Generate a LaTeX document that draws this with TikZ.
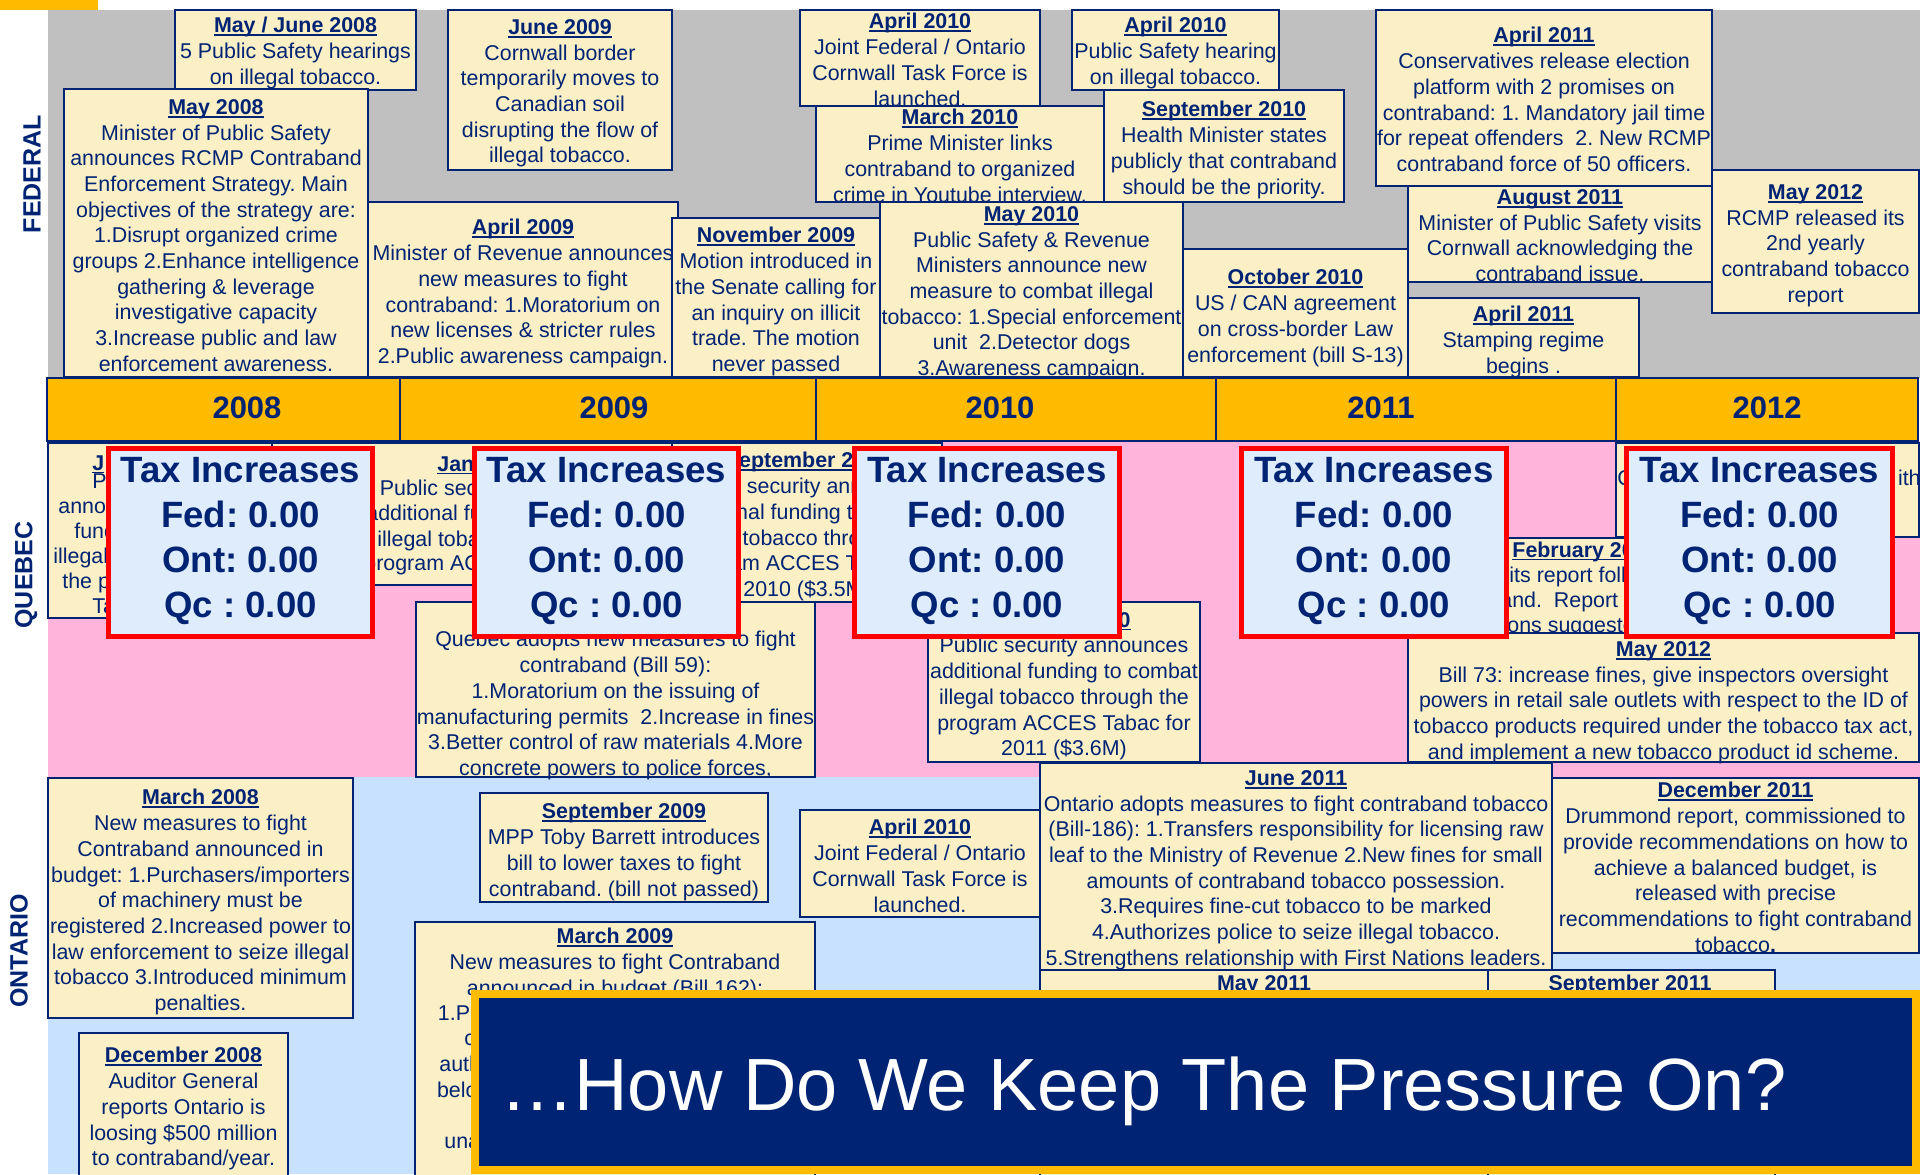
\documentclass[tikz,border=0pt]{standalone}
\usepackage{fontspec}
\setmainfont{Liberation Sans}
\definecolor{navy}{RGB}{0,35,115}
\definecolor{cream}{RGB}{251,239,198}
\definecolor{fedgray}{RGB}{192,192,192}
\definecolor{qcpink}{RGB}{255,181,219}
\definecolor{onblue}{RGB}{199,225,255}
\definecolor{amber}{RGB}{255,187,0}
\definecolor{taxfill}{RGB}{222,236,251}
\definecolor{taxred}{RGB}{255,0,0}
\newcommand{\evtitle}[1]{\setbox0\hbox{\bfseries #1}\rlap{\vrule width\wd0 height -0.75pt depth 1.6pt}\box0}

\begin{document}
\frenchspacing
\begin{tikzpicture}[x=0.5pt,y=0.5pt,
  evbox/.style={draw=navy, line width=1.25pt, fill=cream},
  evtext/.style={anchor=north, align=center, text=navy, font=\fontsize{10.7}{12.85}\selectfont},
  frag/.style={anchor=base west, text=navy, font=\fontsize{10.7}{12.85}\selectfont},
  yearbar/.style={draw=navy, line width=1pt, fill=amber},
  yearlbl/.style={text=navy, font=\bfseries\fontsize{15.5}{18}\selectfont},
  taxframe/.style={draw=taxred, line width=2.5pt, fill=taxfill},
  taxtext/.style={anchor=north, align=center, text=navy, font=\bfseries\fontsize{18.3}{22.5}\selectfont},
  banner/.style={draw=amber, line width=4pt, fill=navy},
  bannertext/.style={anchor=base, text=white, font=\fontsize{37}{44}\selectfont},
  lanelbl/.style={rotate=90, text=navy, font=\bfseries\fontsize{12.5}{15}\selectfont}]
        \tikzstyle{every node}+=[inner sep=0pt]
        \useasboundingbox (0,0) rectangle (1920,-1174);
        % lanes
        \fill [amber] (0,0) rectangle (98,-10);
        \fill [fedgray] (48,-10) rectangle (1920,-378);
        \fill [qcpink] (48,-441) rectangle (1920,-777);
        \fill [onblue] (48,-777) rectangle (1920,-1174);
        % federal events
        \draw [evbox] (175,-10) rectangle (416,-90);
        \draw (295.5,-17) node [evtext] (fed1) {\evtitle{May / June 2008}\\5 Public Safety hearings\\on illegal tobacco.};
        \draw [evbox] (448,-10) rectangle (672,-170);
        \draw (560,-19) node [evtext] (fed2) {\evtitle{June 2009}\\Cornwall border\\temporarily moves to\\Canadian soil\\disrupting the flow of\\illegal tobacco.};
        \draw [evbox] (64,-89) rectangle (368,-377);
        \draw (216,-99) node [evtext] (fed3) {\evtitle{May 2008}\\Minister of Public Safety\\announces RCMP Contraband\\Enforcement Strategy. Main\\objectives of the strategy are:\\1.Disrupt organized crime\\groups 2.Enhance intelligence\\gathering \& leverage\\investigative capacity\\3.Increase public and law\\enforcement awareness.};
        \draw [evbox] (368,-202) rectangle (678,-377);
        \draw (523,-219) node [evtext] (fed4) {\evtitle{April 2009}\\Minister of Revenue announces\\new measures to fight\\contraband: 1.Moratorium on\\new licenses \& stricter rules\\2.Public awareness campaign.};
        \draw [evbox] (672,-218) rectangle (880,-377);
        \draw (776,-227) node [evtext] (fed5) {\evtitle{November 2009}\\Motion introduced in\\the Senate calling for\\an inquiry on illicit\\trade. The motion\\never passed};
        \draw [evbox] (800,-10) rectangle (1040,-106);
        \draw (920,-13) node [evtext] (fed6) {\evtitle{April 2010}\\Joint Federal / Ontario\\Cornwall Task Force is\\launched.};
        \draw [evbox] (1072,-10) rectangle (1279,-90);
        \draw (1175.5,-17) node [evtext] (fed7) {\evtitle{April 2010}\\Public Safety hearing\\on illegal tobacco.};
        \draw [evbox] (816,-106) rectangle (1104,-202);
        \draw (960,-109) node [evtext] (fed8) {\evtitle{March 2010}\\Prime Minister links\\contraband to organized\\crime in Youtube interview.};
        \draw [evbox] (1104,-90) rectangle (1344,-202);
        \draw (1224,-101) node [evtext] (fed9) {\evtitle{September 2010}\\Health Minister states\\publicly that contraband\\should be the priority.};
        \draw [evbox] (880,-202) rectangle (1183,-377);
        \draw (1031.5,-206) node [evtext] (fed10) {\evtitle{May 2010}\\Public Safety \& Revenue\\Ministers announce new\\measure to combat illegal\\tobacco: 1.Special enforcement\\unit~ 2.Detector dogs\\3.Awareness campaign.};
        \draw [evbox] (1183,-249) rectangle (1408,-377);
        \draw (1295.5,-269) node [evtext] (fed11) {\evtitle{October 2010}\\US / CAN agreement\\on cross-border Law\\enforcement (bill S-13)};
        \draw [evbox] (1376,-10) rectangle (1712,-186);
        \draw (1544,-27) node [evtext] (fed12) {\evtitle{April 2011}\\Conservatives release election\\platform with 2 promises on\\contraband: 1. Mandatory jail time\\for repeat offenders~ 2. New RCMP\\contraband force of 50 officers.};
        \draw [evbox] (1408,-186) rectangle (1712,-282);
        \draw (1560,-189) node [evtext] (fed13) {\evtitle{August 2011}\\Minister of Public Safety visits\\Cornwall acknowledging the\\contraband issue.};
        \draw [evbox] (1408,-298) rectangle (1639,-377);
        \draw (1523.5,-306) node [evtext] (fed14) {\evtitle{April 2011}\\Stamping regime\\begins .};
        \draw [evbox] (1712,-170) rectangle (1919,-313);
        \draw (1815.5,-184) node [evtext] (fed15) {\evtitle{May 2012}\\RCMP released its\\2nd yearly\\contraband tobacco\\report};
        % year bar
        \draw [yearbar] (47,-378) rectangle (1918,-441);
        \draw [navy, line width=1pt] (400,-378) -- (400,-441);
        \draw [navy, line width=1pt] (816,-378) -- (816,-441);
        \draw [navy, line width=1pt] (1216,-378) -- (1216,-441);
        \draw [navy, line width=1pt] (1616,-378) -- (1616,-441);
        \draw (247,-407.5) node [yearlbl] (y2008) {2008};
        \draw (614,-407.5) node [yearlbl] (y2009) {2009};
        \draw (1000,-407.5) node [yearlbl] (y2010) {2010};
        \draw (1381,-407.5) node [yearlbl] (y2011) {2011};
        \draw (1767,-407.5) node [yearlbl] (y2012) {2012};
        % quebec events
        \draw [evbox] (48,-443) rectangle (272,-618);
        \draw (92,-470) node [frag] (qc1t) {\evtitle{J}};
        \draw (92,-488) node [frag] (qc1a) {Pu};
        \draw (58,-513) node [frag] (qc1b) {annou};
        \draw (74,-538) node [frag] (qc1c) {fund};
        \draw (53,-563) node [frag] (qc1d) {illegal t};
        \draw (62,-588) node [frag] (qc1e) {the pr};
        \draw (92,-613) node [frag] (qc1f) {Ta};
        \draw [evbox] (272,-443) rectangle (672,-585);
        \draw (437,-471) node [frag] (qc2t) {\evtitle{Jan}};
        \draw (379.5,-495) node [frag] (qc2a) {Public secu};
        \draw (366,-520) node [frag] (qc2b) {additional fu};
        \draw (377,-546) node [frag] (qc2c) {illegal tobac};
        \draw (364,-570) node [frag] (qc2d) {program ACC};
        \draw [evbox] (672,-443) rectangle (942,-602);
        \draw (807,-452) node [evtext] (qc3) {\evtitle{September 2009}\\Public security announces\\additional funding to combat\\illegal tobacco through the\\program ACCES Tabac for\\2010 (\$3.5M)};
        \draw [evbox] (416,-602) rectangle (815,-777);
        \draw (615.5,-631) node [evtext] (qc4) {Quebec adopts new measures to fight\\contraband (Bill 59):\\1.Moratorium on the issuing of\\manufacturing permits~ 2.Increase in fines\\3.Better control of raw materials 4.More\\concrete powers to police forces,};
        \draw [evbox] (928,-602) rectangle (1200,-762);
        \draw (1131,-627) node [frag, anchor=base east] (qc5t) {\evtitle{0}};
        \draw (1064,-637) node [evtext] (qc5) {Public security announces\\additional funding to combat\\illegal tobacco through the\\program ACCES Tabac for\\2011 (\$3.6M)};
        \draw [evbox] (1440,-538) rectangle (1700,-633);
        \draw (1512,-557) node [frag] (qc6t) {\evtitle{February 20}};
        \draw (1509,-582) node [frag] (qc6a) {its report foll};
        \draw (1500,-607) node [frag] (qc6b) {and.~ Report o};
        \draw (1507,-632) node [frag] (qc6c) {ons suggeste};
        \draw [evbox] (1616,-443) rectangle (1919,-537);
        \draw (1617,-485) node [frag] (qc7a) {C};
        \draw (1921,-485) node [frag, anchor=base east] (qc7b) {ith};
        \draw [evbox] (1408,-633) rectangle (1919,-762);
        \draw (1663.5,-641) node [evtext] (qc8) {\evtitle{May 2012}\\Bill 73: increase fines, give inspectors oversight\\powers in retail sale outlets with respect to the ID of\\tobacco products required under the tobacco tax act,\\and implement a new tobacco product id scheme.};
        % ontario events
        \draw [evbox] (48,-778) rectangle (353,-1018);
        \draw (200.5,-789) node [evtext] (on1) {\evtitle{March 2008}\\New measures to fight\\Contraband announced in\\budget: 1.Purchasers/importers\\of machinery must be\\registered 2.Increased power to\\law enforcement to seize illegal\\tobacco 3.Introduced minimum\\penalties.};
        \draw [evbox] (79,-1033) rectangle (288,-1190);
        \draw (183.5,-1047) node [evtext] (on2) {\evtitle{December 2008}\\Auditor General\\reports Ontario is\\loosing \$500 million\\to contraband/year.};
        \draw [evbox] (480,-793) rectangle (768,-902);
        \draw (624,-803) node [evtext] (on3) {\evtitle{September 2009}\\MPP Toby Barrett introduces\\bill to lower taxes to fight\\contraband. (bill not passed)};
        \draw [evbox] (415,-922) rectangle (815,-1190);
        \draw (615,-928) node [evtext] (on4) {\evtitle{March 2009}\\New measures to fight Contraband\\announced in budget (Bill 162):};
        \draw (437.5,-1020) node [frag] (on4a) {1.Pr};
        \draw (464,-1045) node [frag] (on4b) {co};
        \draw (439,-1071) node [frag] (on4c) {auth};
        \draw (436.6,-1097) node [frag] (on4d) {belo};
        \draw (444,-1148) node [frag] (on4e) {una};
        \draw [evbox] (800,-810) rectangle (1040,-917);
        \draw (920,-819) node [evtext] (on5) {\evtitle{April 2010}\\Joint Federal / Ontario\\Cornwall Task Force is\\launched.};
        \draw [evbox] (1040,-763) rectangle (1552,-970);
        \draw (1296,-770) node [evtext] (on6) {\evtitle{June 2011}\\Ontario adopts measures to fight contraband tobacco\\(Bill-186): 1.Transfers responsibility for licensing raw\\leaf to the Ministry of Revenue 2.New fines for small\\amounts of contraband tobacco possession.\\3.Requires fine-cut tobacco to be marked\\4.Authorizes police to seize illegal tobacco.\\5.Strengthens relationship with First Nations leaders.};
        \draw [evbox] (1552,-778) rectangle (1919,-953);
        \draw (1735.5,-782) node [evtext] (on7) {\evtitle{December 2011}\\Drummond report, commissioned to\\provide recommendations on how to\\achieve a balanced budget, is\\released with precise\\recommendations to fight contraband\\tobacco\textbf{.}};
        \draw [evbox] (1040,-970) rectangle (1488,-1190);
        \draw (1264,-975) node [evtext] (on8) {\evtitle{May 2011}};
        \draw [evbox] (1488,-970) rectangle (1775,-1190);
        \draw (1630,-975) node [evtext] (on9) {\evtitle{September 2011}};
        % tax increase boxes
        \draw [taxframe] (108.5,-448.5) rectangle (372.5,-636.5);
        \draw (240.5,-457) node [taxtext] (tax08) {Tax Increases\\Fed: 0.00\\Ont: 0.00\\Qc : 0.00};
        \draw [taxframe] (474.5,-448.5) rectangle (738.5,-636.5);
        \draw (606.5,-457) node [taxtext] (tax09) {Tax Increases\\Fed: 0.00\\Ont: 0.00\\Qc : 0.00};
        \draw [taxframe] (854.5,-448.5) rectangle (1119.5,-636.5);
        \draw (987,-457) node [taxtext] (tax10) {Tax Increases\\Fed: 0.00\\Ont: 0.00\\Qc : 0.00};
        \draw [taxframe] (1241.5,-448.5) rectangle (1506.5,-636.5);
        \draw (1374,-457) node [taxtext] (tax11) {Tax Increases\\Fed: 0.00\\Ont: 0.00\\Qc : 0.00};
        \draw [taxframe] (1626.5,-448.5) rectangle (1892.5,-636.5);
        \draw (1759.5,-457) node [taxtext] (tax12) {Tax Increases\\Fed: 0.00\\Ont: 0.00\\Qc : 0.00};
        % banner
        \draw [banner] (475,-994) rectangle (1916,-1170);
        \draw (1143.5,-1110) node [bannertext] (pressure) {…How Do We Keep The Pressure On?};
        % lane labels
        \draw (32,-174) node [lanelbl] (federal) {FEDERAL};
        \draw (26,-575) node [lanelbl] (quebec) {QUEBEC};
        \draw (19,-951) node [lanelbl] (ontario) {ONTARIO};
\end{tikzpicture}
\end{document}
